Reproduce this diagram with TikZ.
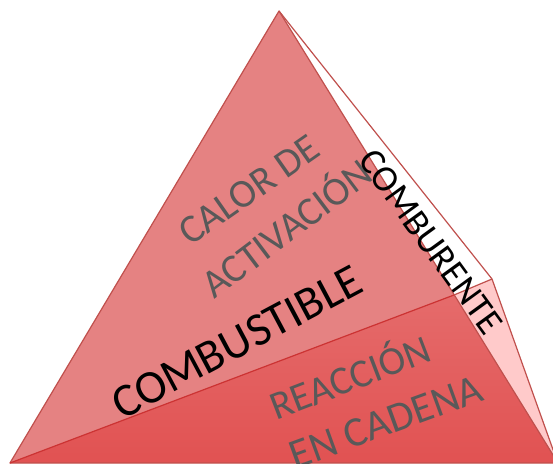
\documentclass[tikz,border=0pt]{standalone}
\usepackage{fontspec}
\setmainfont{Carlito}
\definecolor{edge}{HTML}{C0504D}
\definecolor{divline}{HTML}{CC3333}
\definecolor{upperfill}{HTML}{E58282}
\definecolor{lowertop}{HTML}{E56B6B}
\definecolor{lowerbot}{HTML}{E15252}
\definecolor{sidepink}{HTML}{FFCACA}
\definecolor{graytext}{HTML}{595959}
\tikzset{
  face/.style={draw=edge, line width=1.2pt, line join=round},
  graylabel/.style={text=graytext, font=\fontsize{40}{48}\selectfont, inner sep=0pt},
  blacklabel/.style={text=black, inner sep=0pt}
}
\begin{document}
\begin{tikzpicture}[x=1pt,y=-1pt]
\useasboundingbox (0,0) rectangle (553,463);
\clip (0,0) rectangle (553,463);
% vertices
\coordinate (apex) at (279,11);
\coordinate (bl) at (10,463);
\coordinate (br) at (558,463);
\coordinate (back) at (492,279);
\coordinate (backbot) at (561,472);
\coordinate (mid) at (454,295);
% side faces
\fill[white] (apex) -- (back) -- (mid) -- cycle;
\fill[sidepink] (mid) -- (back) -- (backbot) -- (br) -- cycle;
\draw[face] (apex) -- (back) -- (backbot);
\draw[face] (back) -- (mid);
% front faces
\fill[upperfill] (apex) -- (bl) -- (mid) -- cycle;
\shade[top color=lowertop, bottom color=lowerbot] (bl) -- (mid) -- (br) -- cycle;
\draw[face] (apex) -- (bl) -- (br) -- cycle;
\draw[divline, line width=1.2pt] (bl) -- (mid);
% labels
\node[graylabel, rotate=35] (calor) at (249,190) {CALOR DE};
\node[graylabel, rotate=37] (activ) at (285,226) {ACTIVACIÓN};
\node[blacklabel, rotate=28, font=\fontsize{47}{56}\selectfont] (comb) at (237,342) {COMBUSTIBLE};
\node[blacklabel, rotate=-54, font=\fontsize{37}{44}\selectfont] (combu) at (431,242) {COMBURENTE};
\node[graylabel, rotate=21] (reac) at (349,375) {REACCIÓN};
\node[graylabel, rotate=20, font=\fontsize{42}{50}\selectfont] (cadena) at (386,422) {EN CADENA};
\end{tikzpicture}
\end{document}
